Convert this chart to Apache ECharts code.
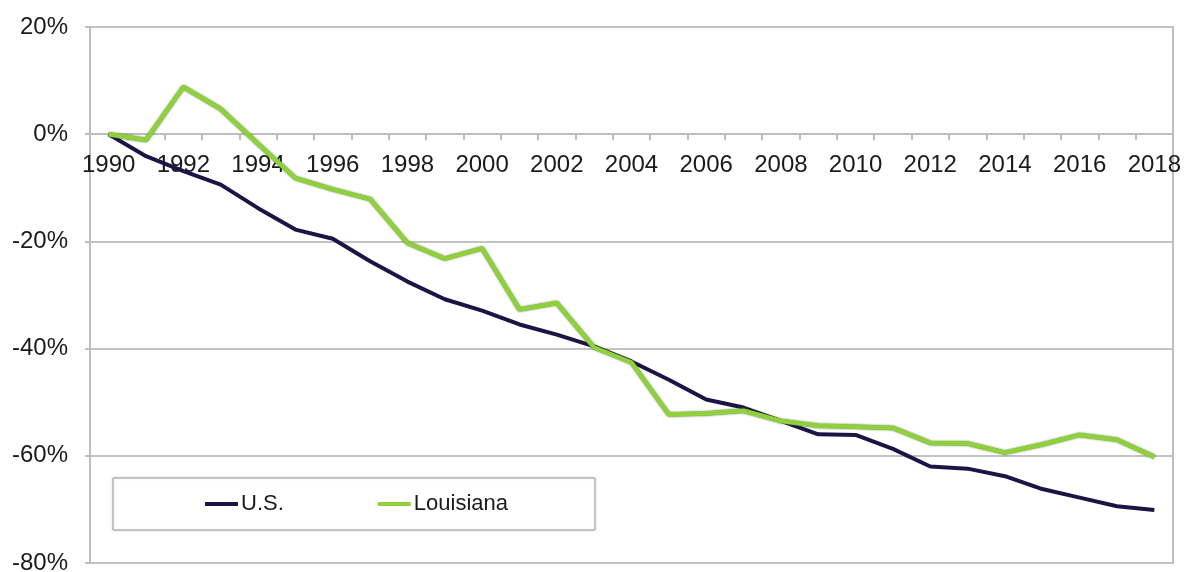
<!DOCTYPE html>
<html>
<head>
<meta charset="utf-8">
<script src="https://cdn.jsdelivr.net/npm/echarts@6/dist/echarts.min.js"></script>
<style>
  html, body { margin: 0; padding: 0; background: #fff; }
  #chart { width: 1187px; height: 572px; }
</style>
</head>
<body>
<div id="chart"></div>
<script>
// years on the x axis
const years = ['1990', '1991', '1992', '1993', '1994', '1995', '1996', '1997', '1998', '1999',
  '2000', '2001', '2002', '2003', '2004', '2005', '2006', '2007', '2008', '2009',
  '2010', '2011', '2012', '2013', '2014', '2015', '2016', '2017', '2018']

// percent change since 1990
const usValues = [0, -4.1, -6.9, -9.4, -13.8, -17.8, -19.5, -23.7, -27.5, -30.8,
  -32.9, -35.5, -37.4, -39.6, -42.4, -45.8, -49.5, -51.0, -53.5, -56.0,
  -56.1, -58.7, -62.0, -62.4, -63.8, -66.2, -67.8, -69.4, -70.1]

const louisianaValues = [0, -1.1, 8.8, 4.7, -1.8, -8.2, -10.3, -12.1, -20.3, -23.2,
  -21.3, -32.7, -31.5, -39.8, -42.6, -52.3, -52.1, -51.6, -53.5, -54.4,
  -54.6, -54.8, -57.6, -57.7, -59.4, -57.9, -56.1, -57.0, -60.2]

// y axis ticks
const yMin = -80
const yMax = 20
const yStep = 20

const chartHeight = 572
const gridTop = 27
const gridBottom = 9
const plotHeight = chartHeight - gridTop - gridBottom
// the category axis sits on the 0% line, so lift it from the bottom edge
const zeroOffset = -plotHeight * (0 - yMin) / (yMax - yMin)

const chart = echarts.init(document.getElementById('chart'))

chart.setOption({
  backgroundColor: '#fff',
  animation: false,
  textStyle: {
    fontFamily: 'Liberation Sans, Arial, sans-serif'
  },
  grid: {
    left: 90,
    right: 14,
    top: gridTop,
    bottom: gridBottom,
    containLabel: false,
    outerBoundsMode: 'none',
    show: true,
    borderColor: '#bdbdbd',
    borderWidth: 2
  },
  legend: {
    left: 113,
    top: 478,
    padding: [15, 87, 15, 92],
    itemGap: 94,
    itemWidth: 33,
    itemHeight: 4,
    icon: 'rect',
    backgroundColor: '#fff',
    borderColor: '#9a9a9a',
    borderWidth: 1,
    shadowColor: 'rgba(0,0,0,0.15)',
    shadowBlur: 3,
    textStyle: {
      fontSize: 22,
      color: '#1a1a1a',
      padding: [0, 0, 0, -2]
    },
    data: ['U.S.', 'Louisiana']
  },
  xAxis: {
    type: 'category',
    data: years,
    boundaryGap: true,
    position: 'bottom',
    offset: zeroOffset,
    z: 1,
    axisLine: {
      onZero: false,
      lineStyle: { color: '#bdbdbd', width: 2 }
    },
    axisTick: {
      show: true,
      interval: 0,
      length: 6,
      lineStyle: { color: '#bdbdbd', width: 2 }
    },
    axisLabel: {
      interval: 1,
      margin: 19,
      fontSize: 24,
      color: '#1a1a1a'
    },
    splitLine: { show: false }
  },
  yAxis: {
    type: 'value',
    min: yMin,
    max: yMax,
    interval: yStep,
    axisLine: {
      show: true,
      lineStyle: { color: '#bdbdbd', width: 2 }
    },
    axisTick: {
      show: true,
      length: 5,
      lineStyle: { color: '#bdbdbd', width: 2 }
    },
    axisLabel: {
      margin: 22,
      fontSize: 24,
      color: '#1a1a1a',
      formatter: '{value}%'
    },
    splitLine: {
      show: true,
      lineStyle: { color: '#c2c2c2', width: 2 }
    }
  },
  series: [
    {
      name: 'U.S.',
      type: 'line',
      data: usValues,
      symbol: 'none',
      color: '#1b1545',
      lineStyle: { width: 4, color: '#1b1545' },
      z: 5
    },
    {
      name: 'Louisiana',
      type: 'line',
      data: louisianaValues,
      symbol: 'none',
      color: '#8fd13c',
      lineStyle: {
        width: 4.5,
        color: '#8fd13c',
        shadowColor: 'rgba(70,100,20,0.9)',
        shadowBlur: 2
      },
      z: 6
    }
  ]
})
</script>
</body>
</html>
